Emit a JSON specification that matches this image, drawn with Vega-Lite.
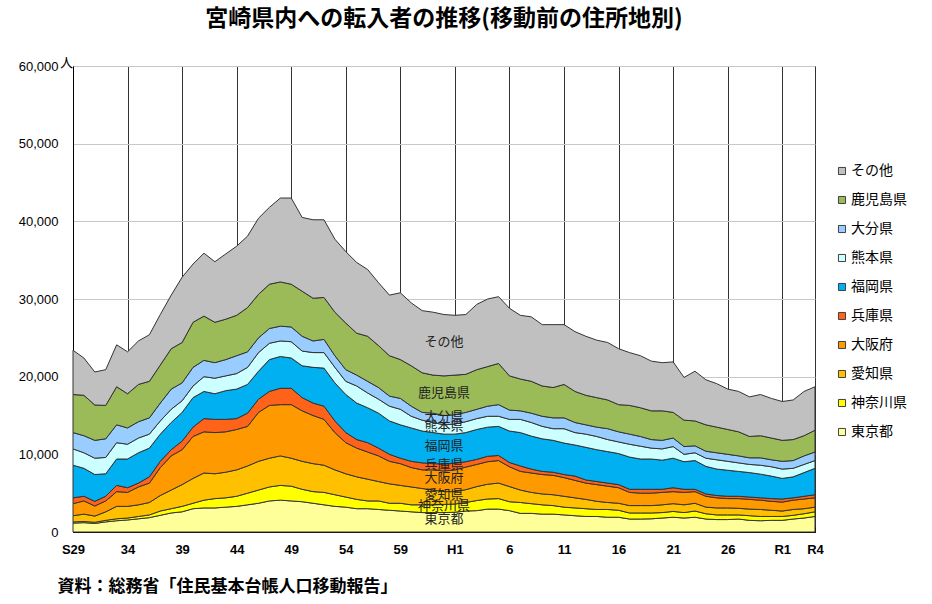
{
"$schema": "https://vega.github.io/schema/vega-lite/v6.json",
"width": 742, "height": 466,
"autosize": {"type": "none"},
"padding": {"left": 73, "top": 66, "right": 117, "bottom": 72},
"background": "white",
"title": {"text": "宮崎県内への転入者の推移(移動前の住所地別)", "fontSize": 23, "fontWeight": "bold", "font": "Noto Sans CJK JP", "color": "#000", "anchor": "middle", "baseline": "bottom", "offset": 2},
"config": {"view": {"stroke": "#000", "strokeWidth": 1}, "font": "Liberation Sans"},
"datasets": {"moves": [
{"year":1954,"area":"東京都","count":1150},{"year":1954,"area":"神奈川県","count":150},{"year":1954,"area":"愛知県","count":800},{"year":1954,"area":"大阪府","count":1550},{"year":1954,"area":"兵庫県","count":750},{"year":1954,"area":"福岡県","count":4200},{"year":1954,"area":"熊本県","count":2100},{"year":1954,"area":"大分県","count":2100},{"year":1954,"area":"鹿児島県","count":4900},{"year":1954,"area":"その他","count":5700},
{"year":1955,"area":"東京都","count":1200},{"year":1955,"area":"神奈川県","count":150},{"year":1955,"area":"愛知県","count":950},{"year":1955,"area":"大阪府","count":1700},{"year":1955,"area":"兵庫県","count":600},{"year":1955,"area":"福岡県","count":3600},{"year":1955,"area":"熊本県","count":2000},{"year":1955,"area":"大分県","count":2200},{"year":1955,"area":"鹿児島県","count":5200},{"year":1955,"area":"その他","count":4800},
{"year":1956,"area":"東京都","count":1100},{"year":1956,"area":"神奈川県","count":150},{"year":1956,"area":"愛知県","count":800},{"year":1956,"area":"大阪府","count":1300},{"year":1956,"area":"兵庫県","count":600},{"year":1956,"area":"福岡県","count":3450},{"year":1956,"area":"熊本県","count":2100},{"year":1956,"area":"大分県","count":2300},{"year":1956,"area":"鹿児島県","count":4550},{"year":1956,"area":"その他","count":4250},
{"year":1957,"area":"東京都","count":1300},{"year":1957,"area":"神奈川県","count":200},{"year":1957,"area":"愛知県","count":1100},{"year":1957,"area":"大阪府","count":1400},{"year":1957,"area":"兵庫県","count":600},{"year":1957,"area":"福岡県","count":2900},{"year":1957,"area":"熊本県","count":2100},{"year":1957,"area":"大分県","count":2400},{"year":1957,"area":"鹿児島県","count":4300},{"year":1957,"area":"その他","count":4600},
{"year":1958,"area":"東京都","count":1450},{"year":1958,"area":"神奈川県","count":250},{"year":1958,"area":"愛知県","count":1600},{"year":1958,"area":"大阪府","count":1900},{"year":1958,"area":"兵庫県","count":800},{"year":1958,"area":"福岡県","count":3400},{"year":1958,"area":"熊本県","count":2100},{"year":1958,"area":"大分県","count":2300},{"year":1958,"area":"鹿児島県","count":4900},{"year":1958,"area":"その他","count":5400},
{"year":1959,"area":"東京都","count":1550},{"year":1959,"area":"神奈川県","count":250},{"year":1959,"area":"愛知県","count":1500},{"year":1959,"area":"大阪府","count":1800},{"year":1959,"area":"兵庫県","count":600},{"year":1959,"area":"福岡県","count":3700},{"year":1959,"area":"熊本県","count":1900},{"year":1959,"area":"大分県","count":2100},{"year":1959,"area":"鹿児島県","count":4400},{"year":1959,"area":"その他","count":5400},
{"year":1960,"area":"東京都","count":1700},{"year":1960,"area":"神奈川県","count":300},{"year":1960,"area":"愛知県","count":1500},{"year":1960,"area":"大阪府","count":2300},{"year":1960,"area":"兵庫県","count":500},{"year":1960,"area":"福岡県","count":3900},{"year":1960,"area":"熊本県","count":1900},{"year":1960,"area":"大分県","count":2100},{"year":1960,"area":"鹿児島県","count":4800},{"year":1960,"area":"その他","count":5600},
{"year":1961,"area":"東京都","count":1850},{"year":1961,"area":"神奈川県","count":350},{"year":1961,"area":"愛知県","count":1600},{"year":1961,"area":"大阪府","count":2500},{"year":1961,"area":"兵庫県","count":800},{"year":1961,"area":"福岡県","count":3700},{"year":1961,"area":"熊本県","count":1800},{"year":1961,"area":"大分県","count":2100},{"year":1961,"area":"鹿児島県","count":4700},{"year":1961,"area":"その他","count":6000},
{"year":1962,"area":"東京都","count":2150},{"year":1962,"area":"神奈川県","count":550},{"year":1962,"area":"愛知県","count":2000},{"year":1962,"area":"大阪府","count":3600},{"year":1962,"area":"兵庫県","count":800},{"year":1962,"area":"福岡県","count":3500},{"year":1962,"area":"熊本県","count":1700},{"year":1962,"area":"大分県","count":2300},{"year":1962,"area":"鹿児島県","count":4900},{"year":1962,"area":"その他","count":6500},
{"year":1963,"area":"東京都","count":2450},{"year":1963,"area":"神奈川県","count":550},{"year":1963,"area":"愛知県","count":2400},{"year":1963,"area":"大阪府","count":4400},{"year":1963,"area":"兵庫県","count":800},{"year":1963,"area":"福岡県","count":3500},{"year":1963,"area":"熊本県","count":1700},{"year":1963,"area":"大分県","count":2600},{"year":1963,"area":"鹿児島県","count":5200},{"year":1963,"area":"その他","count":6900},
{"year":1964,"area":"東京都","count":2600},{"year":1964,"area":"神奈川県","count":700},{"year":1964,"area":"愛知県","count":2800},{"year":1964,"area":"大阪府","count":4500},{"year":1964,"area":"兵庫県","count":1100},{"year":1964,"area":"福岡県","count":3700},{"year":1964,"area":"熊本県","count":1500},{"year":1964,"area":"大分県","count":2300},{"year":1964,"area":"鹿児島県","count":5200},{"year":1964,"area":"その他","count":8400},
{"year":1965,"area":"東京都","count":3000},{"year":1965,"area":"神奈川県","count":700},{"year":1965,"area":"愛知県","count":3200},{"year":1965,"area":"大阪府","count":5400},{"year":1965,"area":"兵庫県","count":1200},{"year":1965,"area":"福岡県","count":3800},{"year":1965,"area":"熊本県","count":1500},{"year":1965,"area":"大分県","count":2400},{"year":1965,"area":"鹿児島県","count":5800},{"year":1965,"area":"その他","count":7500},
{"year":1966,"area":"東京都","count":3100},{"year":1966,"area":"神奈川県","count":1000},{"year":1966,"area":"愛知県","count":3500},{"year":1966,"area":"大阪府","count":5300},{"year":1966,"area":"兵庫県","count":1700},{"year":1966,"area":"福岡県","count":3500},{"year":1966,"area":"熊本県","count":1900},{"year":1966,"area":"大分県","count":2100},{"year":1966,"area":"鹿児島県","count":5700},{"year":1966,"area":"その他","count":8100},
{"year":1967,"area":"東京都","count":3100},{"year":1967,"area":"神奈川県","count":1200},{"year":1967,"area":"愛知県","count":3200},{"year":1967,"area":"大阪府","count":5300},{"year":1967,"area":"兵庫県","count":1700},{"year":1967,"area":"福岡県","count":3300},{"year":1967,"area":"熊本県","count":2000},{"year":1967,"area":"大分県","count":2000},{"year":1967,"area":"鹿児島県","count":5200},{"year":1967,"area":"その他","count":7800},
{"year":1968,"area":"東京都","count":3200},{"year":1968,"area":"神奈川県","count":1200},{"year":1968,"area":"愛知県","count":3300},{"year":1968,"area":"大阪府","count":5200},{"year":1968,"area":"兵庫県","count":1600},{"year":1968,"area":"福岡県","count":3700},{"year":1968,"area":"熊本県","count":1900},{"year":1968,"area":"大分県","count":2100},{"year":1968,"area":"鹿児島県","count":5200},{"year":1968,"area":"その他","count":8400},
{"year":1969,"area":"東京都","count":3300},{"year":1969,"area":"神奈川県","count":1300},{"year":1969,"area":"愛知県","count":3400},{"year":1969,"area":"大阪府","count":5200},{"year":1969,"area":"兵庫県","count":1400},{"year":1969,"area":"福岡県","count":3800},{"year":1969,"area":"熊本県","count":2000},{"year":1969,"area":"大分県","count":2300},{"year":1969,"area":"鹿児島県","count":5200},{"year":1969,"area":"その他","count":8900},
{"year":1970,"area":"東京都","count":3500},{"year":1970,"area":"神奈川県","count":1500},{"year":1970,"area":"愛知県","count":3500},{"year":1970,"area":"大阪府","count":5100},{"year":1970,"area":"兵庫県","count":1700},{"year":1970,"area":"福岡県","count":3700},{"year":1970,"area":"熊本県","count":2200},{"year":1970,"area":"大分県","count":2000},{"year":1970,"area":"鹿児島県","count":5700},{"year":1970,"area":"その他","count":9200},
{"year":1971,"area":"東京都","count":3700},{"year":1971,"area":"神奈川県","count":1700},{"year":1971,"area":"愛知県","count":3700},{"year":1971,"area":"大阪府","count":6300},{"year":1971,"area":"兵庫県","count":1700},{"year":1971,"area":"福岡県","count":3600},{"year":1971,"area":"熊本県","count":2400},{"year":1971,"area":"大分県","count":1900},{"year":1971,"area":"鹿児島県","count":5600},{"year":1971,"area":"その他","count":9800},
{"year":1972,"area":"東京都","count":4000},{"year":1972,"area":"神奈川県","count":1800},{"year":1972,"area":"愛知県","count":3700},{"year":1972,"area":"大阪府","count":6800},{"year":1972,"area":"兵庫県","count":1800},{"year":1972,"area":"福岡県","count":4100},{"year":1972,"area":"熊本県","count":2100},{"year":1972,"area":"大分県","count":1900},{"year":1972,"area":"鹿児島県","count":5700},{"year":1972,"area":"その他","count":9900},
{"year":1973,"area":"東京都","count":4100},{"year":1973,"area":"神奈川県","count":1900},{"year":1973,"area":"愛知県","count":3800},{"year":1973,"area":"大阪府","count":6600},{"year":1973,"area":"兵庫県","count":2100},{"year":1973,"area":"福岡県","count":4100},{"year":1973,"area":"熊本県","count":2000},{"year":1973,"area":"大分県","count":1900},{"year":1973,"area":"鹿児島県","count":5700},{"year":1973,"area":"その他","count":10800},
{"year":1974,"area":"東京都","count":4000},{"year":1974,"area":"神奈川県","count":1900},{"year":1974,"area":"愛知県","count":3600},{"year":1974,"area":"大阪府","count":6900},{"year":1974,"area":"兵庫県","count":2100},{"year":1974,"area":"福岡県","count":3900},{"year":1974,"area":"熊本県","count":2100},{"year":1974,"area":"大分県","count":1900},{"year":1974,"area":"鹿児島県","count":5500},{"year":1974,"area":"その他","count":11100},
{"year":1975,"area":"東京都","count":3900},{"year":1975,"area":"神奈川県","count":1600},{"year":1975,"area":"愛知県","count":3600},{"year":1975,"area":"大阪府","count":6500},{"year":1975,"area":"兵庫県","count":1700},{"year":1975,"area":"福岡県","count":4100},{"year":1975,"area":"熊本県","count":1900},{"year":1975,"area":"大分県","count":1900},{"year":1975,"area":"鹿児島県","count":5800},{"year":1975,"area":"その他","count":9500},
{"year":1976,"area":"東京都","count":3700},{"year":1976,"area":"神奈川県","count":1500},{"year":1976,"area":"愛知県","count":3600},{"year":1976,"area":"大阪府","count":6200},{"year":1976,"area":"兵庫県","count":1600},{"year":1976,"area":"福岡県","count":4600},{"year":1976,"area":"熊本県","count":1900},{"year":1976,"area":"大分県","count":1500},{"year":1976,"area":"鹿児島県","count":5500},{"year":1976,"area":"その他","count":10100},
{"year":1977,"area":"東京都","count":3500},{"year":1977,"area":"神奈川県","count":1600},{"year":1977,"area":"愛知県","count":3500},{"year":1977,"area":"大阪府","count":5900},{"year":1977,"area":"兵庫県","count":1700},{"year":1977,"area":"福岡県","count":4900},{"year":1977,"area":"熊本県","count":2000},{"year":1977,"area":"大分県","count":1700},{"year":1977,"area":"鹿児島県","count":5400},{"year":1977,"area":"その他","count":10000},
{"year":1978,"area":"東京都","count":3300},{"year":1978,"area":"神奈川県","count":1500},{"year":1978,"area":"愛知県","count":3200},{"year":1978,"area":"大阪府","count":4800},{"year":1978,"area":"兵庫県","count":1500},{"year":1978,"area":"福岡県","count":4900},{"year":1978,"area":"熊本県","count":2000},{"year":1978,"area":"大分県","count":1500},{"year":1978,"area":"鹿児島県","count":5600},{"year":1978,"area":"その他","count":9400},
{"year":1979,"area":"東京都","count":3200},{"year":1979,"area":"神奈川県","count":1300},{"year":1979,"area":"愛知県","count":3000},{"year":1979,"area":"大阪府","count":4000},{"year":1979,"area":"兵庫県","count":1300},{"year":1979,"area":"福岡県","count":4900},{"year":1979,"area":"熊本県","count":1700},{"year":1979,"area":"大分県","count":1500},{"year":1979,"area":"鹿児島県","count":6000},{"year":1979,"area":"その他","count":9200},
{"year":1980,"area":"東京都","count":3000},{"year":1980,"area":"神奈川県","count":1200},{"year":1980,"area":"愛知県","count":2900},{"year":1980,"area":"大阪府","count":3700},{"year":1980,"area":"兵庫県","count":1100},{"year":1980,"area":"福岡県","count":4700},{"year":1980,"area":"熊本県","count":2200},{"year":1980,"area":"大分県","count":1400},{"year":1980,"area":"鹿児島県","count":5400},{"year":1980,"area":"その他","count":9100},
{"year":1981,"area":"東京都","count":3000},{"year":1981,"area":"神奈川県","count":1000},{"year":1981,"area":"愛知県","count":2800},{"year":1981,"area":"大阪府","count":3500},{"year":1981,"area":"兵庫県","count":1200},{"year":1981,"area":"福岡県","count":4500},{"year":1981,"area":"熊本県","count":1900},{"year":1981,"area":"大分県","count":1500},{"year":1981,"area":"鹿児島県","count":5800},{"year":1981,"area":"その他","count":8600},
{"year":1982,"area":"東京都","count":2900},{"year":1982,"area":"神奈川県","count":1100},{"year":1982,"area":"愛知県","count":2500},{"year":1982,"area":"大阪府","count":3300},{"year":1982,"area":"兵庫県","count":1000},{"year":1982,"area":"福岡県","count":4500},{"year":1982,"area":"熊本県","count":1800},{"year":1982,"area":"大分県","count":1500},{"year":1982,"area":"鹿児島県","count":5400},{"year":1982,"area":"その他","count":8100},
{"year":1983,"area":"東京都","count":2800},{"year":1983,"area":"神奈川県","count":900},{"year":1983,"area":"愛知県","count":2500},{"year":1983,"area":"大阪府","count":2900},{"year":1983,"area":"兵庫県","count":900},{"year":1983,"area":"福岡県","count":4300},{"year":1983,"area":"熊本県","count":1900},{"year":1983,"area":"大分県","count":1300},{"year":1983,"area":"鹿児島県","count":5200},{"year":1983,"area":"その他","count":7800},
{"year":1984,"area":"東京都","count":2700},{"year":1984,"area":"神奈川県","count":1000},{"year":1984,"area":"愛知県","count":2300},{"year":1984,"area":"大阪府","count":2800},{"year":1984,"area":"兵庫県","count":700},{"year":1984,"area":"福岡県","count":4300},{"year":1984,"area":"熊本県","count":2000},{"year":1984,"area":"大分県","count":1400},{"year":1984,"area":"鹿児島県","count":5000},{"year":1984,"area":"その他","count":8600},
{"year":1985,"area":"東京都","count":2600},{"year":1985,"area":"神奈川県","count":900},{"year":1985,"area":"愛知県","count":2300},{"year":1985,"area":"大阪府","count":2500},{"year":1985,"area":"兵庫県","count":800},{"year":1985,"area":"福岡県","count":4300},{"year":1985,"area":"熊本県","count":1500},{"year":1985,"area":"大分県","count":1300},{"year":1985,"area":"鹿児島県","count":5200},{"year":1985,"area":"その他","count":8100},
{"year":1986,"area":"東京都","count":2500},{"year":1986,"area":"神奈川県","count":1000},{"year":1986,"area":"愛知県","count":2100},{"year":1986,"area":"大阪府","count":2400},{"year":1986,"area":"兵庫県","count":900},{"year":1986,"area":"福岡県","count":4100},{"year":1986,"area":"熊本県","count":1400},{"year":1986,"area":"大分県","count":1000},{"year":1986,"area":"鹿児島県","count":5100},{"year":1986,"area":"その他","count":8000},
{"year":1987,"area":"東京都","count":2500},{"year":1987,"area":"神奈川県","count":1000},{"year":1987,"area":"愛知県","count":1900},{"year":1987,"area":"大阪府","count":2600},{"year":1987,"area":"兵庫県","count":800},{"year":1987,"area":"福岡県","count":4000},{"year":1987,"area":"熊本県","count":1300},{"year":1987,"area":"大分県","count":1200},{"year":1987,"area":"鹿児島県","count":4900},{"year":1987,"area":"その他","count":8100},
{"year":1988,"area":"東京都","count":2500},{"year":1988,"area":"神奈川県","count":1050},{"year":1988,"area":"愛知県","count":1650},{"year":1988,"area":"大阪府","count":2650},{"year":1988,"area":"兵庫県","count":900},{"year":1988,"area":"福岡県","count":3850},{"year":1988,"area":"熊本県","count":1200},{"year":1988,"area":"大分県","count":1200},{"year":1988,"area":"鹿児島県","count":5100},{"year":1988,"area":"その他","count":7900},
{"year":1989,"area":"東京都","count":2550},{"year":1989,"area":"神奈川県","count":1050},{"year":1989,"area":"愛知県","count":1600},{"year":1989,"area":"大阪府","count":2800},{"year":1989,"area":"兵庫県","count":850},{"year":1989,"area":"福岡県","count":3750},{"year":1989,"area":"熊本県","count":1300},{"year":1989,"area":"大分県","count":1200},{"year":1989,"area":"鹿児島県","count":5100},{"year":1989,"area":"その他","count":7700},
{"year":1990,"area":"東京都","count":2700},{"year":1990,"area":"神奈川県","count":1100},{"year":1990,"area":"愛知県","count":1650},{"year":1990,"area":"大阪府","count":2900},{"year":1990,"area":"兵庫県","count":700},{"year":1990,"area":"福岡県","count":3750},{"year":1990,"area":"熊本県","count":1400},{"year":1990,"area":"大分県","count":1200},{"year":1990,"area":"鹿児島県","count":4900},{"year":1990,"area":"その他","count":7700},
{"year":1991,"area":"東京都","count":2750},{"year":1991,"area":"神奈川県","count":1300},{"year":1991,"area":"愛知県","count":1800},{"year":1991,"area":"大阪府","count":2850},{"year":1991,"area":"兵庫県","count":650},{"year":1991,"area":"福岡県","count":3850},{"year":1991,"area":"熊本県","count":1400},{"year":1991,"area":"大分県","count":1200},{"year":1991,"area":"鹿児島県","count":5100},{"year":1991,"area":"その他","count":8400},
{"year":1992,"area":"東京都","count":2950},{"year":1992,"area":"神奈川県","count":1300},{"year":1992,"area":"愛知県","count":1900},{"year":1992,"area":"大阪府","count":2900},{"year":1992,"area":"兵庫県","count":700},{"year":1992,"area":"福岡県","count":3750},{"year":1992,"area":"熊本県","count":1400},{"year":1992,"area":"大分県","count":1300},{"year":1992,"area":"鹿児島県","count":5100},{"year":1992,"area":"その他","count":8700},
{"year":1993,"area":"東京都","count":2950},{"year":1993,"area":"神奈川県","count":1350},{"year":1993,"area":"愛知県","count":2000},{"year":1993,"area":"大阪府","count":2900},{"year":1993,"area":"兵庫県","count":650},{"year":1993,"area":"福岡県","count":3750},{"year":1993,"area":"熊本県","count":1300},{"year":1993,"area":"大分県","count":1500},{"year":1993,"area":"鹿児島県","count":5300},{"year":1993,"area":"その他","count":8600},
{"year":1994,"area":"東京都","count":2750},{"year":1994,"area":"神奈川県","count":1150},{"year":1994,"area":"愛知県","count":1950},{"year":1994,"area":"大阪府","count":2550},{"year":1994,"area":"兵庫県","count":550},{"year":1994,"area":"福岡県","count":4050},{"year":1994,"area":"熊本県","count":1500},{"year":1994,"area":"大分県","count":1200},{"year":1994,"area":"鹿児島県","count":4400},{"year":1994,"area":"その他","count":8700},
{"year":1995,"area":"東京都","count":2400},{"year":1995,"area":"神奈川県","count":1400},{"year":1995,"area":"愛知県","count":1600},{"year":1995,"area":"大阪府","count":2400},{"year":1995,"area":"兵庫県","count":700},{"year":1995,"area":"福岡県","count":4300},{"year":1995,"area":"熊本県","count":1700},{"year":1995,"area":"大分県","count":1100},{"year":1995,"area":"鹿児島県","count":4100},{"year":1995,"area":"その他","count":8200},
{"year":1996,"area":"東京都","count":2400},{"year":1996,"area":"神奈川県","count":1250},{"year":1996,"area":"愛知県","count":1450},{"year":1996,"area":"大阪府","count":2500},{"year":1996,"area":"兵庫県","count":500},{"year":1996,"area":"福岡県","count":4250},{"year":1996,"area":"熊本県","count":1750},{"year":1996,"area":"大分県","count":1200},{"year":1996,"area":"鹿児島県","count":4100},{"year":1996,"area":"その他","count":8300},
{"year":1997,"area":"東京都","count":2300},{"year":1997,"area":"神奈川県","count":1200},{"year":1997,"area":"愛知県","count":1400},{"year":1997,"area":"大阪府","count":2500},{"year":1997,"area":"兵庫県","count":400},{"year":1997,"area":"福岡県","count":4200},{"year":1997,"area":"熊本県","count":1600},{"year":1997,"area":"大分県","count":1300},{"year":1997,"area":"鹿児島県","count":3900},{"year":1997,"area":"その他","count":7900},
{"year":1998,"area":"東京都","count":2300},{"year":1998,"area":"神奈川県","count":1100},{"year":1998,"area":"愛知県","count":1400},{"year":1998,"area":"大阪府","count":2500},{"year":1998,"area":"兵庫県","count":400},{"year":1998,"area":"福岡県","count":4100},{"year":1998,"area":"熊本県","count":1500},{"year":1998,"area":"大分県","count":1400},{"year":1998,"area":"鹿児島県","count":3900},{"year":1998,"area":"その他","count":8100},
{"year":1999,"area":"東京都","count":2200},{"year":1999,"area":"神奈川県","count":1000},{"year":1999,"area":"愛知県","count":1400},{"year":1999,"area":"大阪府","count":2400},{"year":1999,"area":"兵庫県","count":400},{"year":1999,"area":"福岡県","count":4050},{"year":1999,"area":"熊本県","count":1850},{"year":1999,"area":"大分県","count":1400},{"year":1999,"area":"鹿児島県","count":4300},{"year":1999,"area":"その他","count":7700},
{"year":2000,"area":"東京都","count":2100},{"year":2000,"area":"神奈川県","count":1000},{"year":2000,"area":"愛知県","count":1300},{"year":2000,"area":"大阪府","count":2250},{"year":2000,"area":"兵庫県","count":550},{"year":2000,"area":"福岡県","count":4000},{"year":2000,"area":"熊本県","count":1600},{"year":2000,"area":"大分県","count":1300},{"year":2000,"area":"鹿児島県","count":4000},{"year":2000,"area":"その他","count":7700},
{"year":2001,"area":"東京都","count":2000},{"year":2001,"area":"神奈川県","count":1000},{"year":2001,"area":"愛知県","count":1200},{"year":2001,"area":"大阪府","count":2100},{"year":2001,"area":"兵庫県","count":400},{"year":2001,"area":"福岡県","count":4200},{"year":2001,"area":"熊本県","count":1700},{"year":2001,"area":"大分県","count":1200},{"year":2001,"area":"鹿児島県","count":3800},{"year":2001,"area":"その他","count":7600},
{"year":2002,"area":"東京都","count":2000},{"year":2002,"area":"神奈川県","count":900},{"year":2002,"area":"愛知県","count":1050},{"year":2002,"area":"大阪府","count":2150},{"year":2002,"area":"兵庫県","count":400},{"year":2002,"area":"福岡県","count":4100},{"year":2002,"area":"熊本県","count":1700},{"year":2002,"area":"大分県","count":1200},{"year":2002,"area":"鹿児島県","count":3800},{"year":2002,"area":"その他","count":7400},
{"year":2003,"area":"東京都","count":1900},{"year":2003,"area":"神奈川県","count":1000},{"year":2003,"area":"愛知県","count":900},{"year":2003,"area":"大阪府","count":2100},{"year":2003,"area":"兵庫県","count":400},{"year":2003,"area":"福岡県","count":4050},{"year":2003,"area":"熊本県","count":1550},{"year":2003,"area":"大分県","count":1400},{"year":2003,"area":"鹿児島県","count":3700},{"year":2003,"area":"その他","count":7400},
{"year":2004,"area":"東京都","count":1900},{"year":2004,"area":"神奈川県","count":900},{"year":2004,"area":"愛知県","count":900},{"year":2004,"area":"大阪府","count":2000},{"year":2004,"area":"兵庫県","count":400},{"year":2004,"area":"福岡県","count":4000},{"year":2004,"area":"熊本県","count":1500},{"year":2004,"area":"大分県","count":1300},{"year":2004,"area":"鹿児島県","count":3500},{"year":2004,"area":"その他","count":7200},
{"year":2005,"area":"東京都","count":1670},{"year":2005,"area":"神奈川県","count":780},{"year":2005,"area":"愛知県","count":950},{"year":2005,"area":"大阪府","count":1700},{"year":2005,"area":"兵庫県","count":400},{"year":2005,"area":"福岡県","count":4150},{"year":2005,"area":"熊本県","count":1650},{"year":2005,"area":"大分県","count":1300},{"year":2005,"area":"鹿児島県","count":3700},{"year":2005,"area":"その他","count":6800},
{"year":2006,"area":"東京都","count":1670},{"year":2006,"area":"神奈川県","count":780},{"year":2006,"area":"愛知県","count":950},{"year":2006,"area":"大阪府","count":1600},{"year":2006,"area":"兵庫県","count":500},{"year":2006,"area":"福岡県","count":3900},{"year":2006,"area":"熊本県","count":1650},{"year":2006,"area":"大分県","count":1250},{"year":2006,"area":"鹿児島県","count":3700},{"year":2006,"area":"その他","count":6700},
{"year":2007,"area":"東京都","count":1700},{"year":2007,"area":"神奈川県","count":750},{"year":2007,"area":"愛知県","count":950},{"year":2007,"area":"大阪府","count":1600},{"year":2007,"area":"兵庫県","count":500},{"year":2007,"area":"福岡県","count":3900},{"year":2007,"area":"熊本県","count":1400},{"year":2007,"area":"大分県","count":1100},{"year":2007,"area":"鹿児島県","count":3700},{"year":2007,"area":"その他","count":6400},
{"year":2008,"area":"東京都","count":1800},{"year":2008,"area":"神奈川県","count":700},{"year":2008,"area":"愛知県","count":1000},{"year":2008,"area":"大阪府","count":1600},{"year":2008,"area":"兵庫県","count":400},{"year":2008,"area":"福岡県","count":3750},{"year":2008,"area":"熊本県","count":1450},{"year":2008,"area":"大分県","count":1100},{"year":2008,"area":"鹿児島県","count":3800},{"year":2008,"area":"その他","count":6200},
{"year":2009,"area":"東京都","count":1900},{"year":2009,"area":"神奈川県","count":750},{"year":2009,"area":"愛知県","count":1000},{"year":2009,"area":"大阪府","count":1550},{"year":2009,"area":"兵庫県","count":500},{"year":2009,"area":"福岡県","count":3800},{"year":2009,"area":"熊本県","count":1500},{"year":2009,"area":"大分県","count":1100},{"year":2009,"area":"鹿児島県","count":3300},{"year":2009,"area":"その他","count":6500},
{"year":2010,"area":"東京都","count":1800},{"year":2010,"area":"神奈川県","count":700},{"year":2010,"area":"愛知県","count":1000},{"year":2010,"area":"大阪府","count":1600},{"year":2010,"area":"兵庫県","count":400},{"year":2010,"area":"福岡県","count":3550},{"year":2010,"area":"熊本県","count":950},{"year":2010,"area":"大分県","count":1000},{"year":2010,"area":"鹿児島県","count":3400},{"year":2010,"area":"その他","count":5500},
{"year":2011,"area":"東京都","count":1900},{"year":2011,"area":"神奈川県","count":800},{"year":2011,"area":"愛知県","count":1000},{"year":2011,"area":"大阪府","count":1500},{"year":2011,"area":"兵庫県","count":300},{"year":2011,"area":"福岡県","count":3700},{"year":2011,"area":"熊本県","count":1000},{"year":2011,"area":"大分県","count":900},{"year":2011,"area":"鹿児島県","count":3200},{"year":2011,"area":"その他","count":6400},
{"year":2012,"area":"東京都","count":1670},{"year":2012,"area":"神奈川県","count":680},{"year":2012,"area":"愛知県","count":850},{"year":2012,"area":"大阪府","count":1400},{"year":2012,"area":"兵庫県","count":300},{"year":2012,"area":"福岡県","count":3550},{"year":2012,"area":"熊本県","count":1050},{"year":2012,"area":"大分県","count":900},{"year":2012,"area":"鹿児島県","count":3400},{"year":2012,"area":"その他","count":5800},
{"year":2013,"area":"東京都","count":1600},{"year":2013,"area":"神奈川県","count":600},{"year":2013,"area":"愛知県","count":900},{"year":2013,"area":"大阪府","count":1300},{"year":2013,"area":"兵庫県","count":300},{"year":2013,"area":"福岡県","count":3400},{"year":2013,"area":"熊本県","count":1200},{"year":2013,"area":"大分県","count":900},{"year":2013,"area":"鹿児島県","count":3300},{"year":2013,"area":"その他","count":5600},
{"year":2014,"area":"東京都","count":1600},{"year":2014,"area":"神奈川県","count":600},{"year":2014,"area":"愛知県","count":900},{"year":2014,"area":"大阪府","count":1200},{"year":2014,"area":"兵庫県","count":300},{"year":2014,"area":"福岡県","count":3350},{"year":2014,"area":"熊本県","count":1150},{"year":2014,"area":"大分県","count":900},{"year":2014,"area":"鹿児島県","count":3200},{"year":2014,"area":"その他","count":5200},
{"year":2015,"area":"東京都","count":1670},{"year":2015,"area":"神奈川県","count":530},{"year":2015,"area":"愛知県","count":850},{"year":2015,"area":"大阪府","count":1250},{"year":2015,"area":"兵庫県","count":300},{"year":2015,"area":"福岡県","count":3200},{"year":2015,"area":"熊本県","count":1100},{"year":2015,"area":"大分県","count":900},{"year":2015,"area":"鹿児島県","count":3100},{"year":2015,"area":"その他","count":5200},
{"year":2016,"area":"東京都","count":1500},{"year":2016,"area":"神奈川県","count":600},{"year":2016,"area":"愛知県","count":850},{"year":2016,"area":"大阪府","count":1250},{"year":2016,"area":"兵庫県","count":300},{"year":2016,"area":"福岡県","count":3150},{"year":2016,"area":"熊本県","count":1050},{"year":2016,"area":"大分県","count":850},{"year":2016,"area":"鹿児島県","count":2750},{"year":2016,"area":"その他","count":5100},
{"year":2017,"area":"東京都","count":1450},{"year":2017,"area":"神奈川県","count":550},{"year":2017,"area":"愛知県","count":900},{"year":2017,"area":"大阪府","count":1200},{"year":2017,"area":"兵庫県","count":300},{"year":2017,"area":"福岡県","count":3050},{"year":2017,"area":"熊本県","count":1150},{"year":2017,"area":"大分県","count":950},{"year":2017,"area":"鹿児島県","count":2850},{"year":2017,"area":"その他","count":5300},
{"year":2018,"area":"東京都","count":1500},{"year":2018,"area":"神奈川県","count":500},{"year":2018,"area":"愛知県","count":800},{"year":2018,"area":"大阪府","count":1150},{"year":2018,"area":"兵庫県","count":350},{"year":2018,"area":"福岡県","count":2900},{"year":2018,"area":"熊本県","count":1200},{"year":2018,"area":"大分県","count":900},{"year":2018,"area":"鹿児島県","count":2800},{"year":2018,"area":"その他","count":5100},
{"year":2019,"area":"東京都","count":1500},{"year":2019,"area":"神奈川県","count":500},{"year":2019,"area":"愛知県","count":700},{"year":2019,"area":"大阪府","count":1150},{"year":2019,"area":"兵庫県","count":400},{"year":2019,"area":"福岡県","count":2650},{"year":2019,"area":"熊本県","count":1200},{"year":2019,"area":"大分県","count":1000},{"year":2019,"area":"鹿児島県","count":2700},{"year":2019,"area":"その他","count":5000},
{"year":2020,"area":"東京都","count":1670},{"year":2020,"area":"神奈川県","count":480},{"year":2020,"area":"愛知県","count":750},{"year":2020,"area":"大阪府","count":1200},{"year":2020,"area":"兵庫県","count":300},{"year":2020,"area":"福岡県","count":2700},{"year":2020,"area":"熊本県","count":1100},{"year":2020,"area":"大分県","count":1000},{"year":2020,"area":"鹿児島県","count":2700},{"year":2020,"area":"その他","count":5100},
{"year":2021,"area":"東京都","count":1800},{"year":2021,"area":"神奈川県","count":550},{"year":2021,"area":"愛知県","count":650},{"year":2021,"area":"大阪府","count":1250},{"year":2021,"area":"兵庫県","count":350},{"year":2021,"area":"福岡県","count":3050},{"year":2021,"area":"熊本県","count":1050},{"year":2021,"area":"大分県","count":1100},{"year":2021,"area":"鹿児島県","count":2600},{"year":2021,"area":"その他","count":5700},
{"year":2022,"area":"東京都","count":2000},{"year":2022,"area":"神奈川県","count":600},{"year":2022,"area":"愛知県","count":600},{"year":2022,"area":"大阪府","count":1200},{"year":2022,"area":"兵庫県","count":400},{"year":2022,"area":"福岡県","count":3400},{"year":2022,"area":"熊本県","count":1000},{"year":2022,"area":"大分県","count":1100},{"year":2022,"area":"鹿児島県","count":2800},{"year":2022,"area":"その他","count":5600}
]},
"data": {"name": "moves"},
"transform": [{"calculate": "indexof(['東京都','神奈川県','愛知県','大阪府','兵庫県','福岡県','熊本県','大分県','鹿児島県','その他'], datum.area)", "as": "rank"}],
"layer": [
{"mark": {"type": "area", "stroke": "#333", "strokeWidth": 1, "strokeJoin": "round", "interpolate": "linear"},
 "encoding": {
  "x": {"field": "year", "type": "quantitative",
        "scale": {"domain": [1954, 2022], "nice": false, "zero": false},
        "axis": {"values": [1954,1959,1964,1969,1974,1979,1984,1989,1994,1999,2004,2009,2014,2019,2022],
                 "labelExpr": "datum.value == 1954 ? 'S29' : datum.value < 1989 ? '' + (datum.value - 1925) : datum.value == 1989 ? 'H1' : datum.value < 2019 ? '' + (datum.value - 1988) : 'R' + (datum.value - 2018)",
                 "grid": true, "gridColor": "#333", "gridWidth": 1, "gridOpacity": 1,
                 "domain": true, "domainColor": "#000", "ticks": true, "tickSize": -5, "tickColor": "#000",
                 "labelFont": "Liberation Sans", "labelFontSize": 13, "labelFontWeight": "bold", "labelColor": "#000", "labelPadding": 16, "labelOverlap": false, "labelFlush": false,
                 "title": "資料：総務省「住民基本台帳人口移動報告」", "titleFont": "Noto Sans CJK JP", "titleFontSize": 17, "titleFontWeight": "bold", "titleColor": "#000",
                 "titleAnchor": "start", "titleAlign": "left", "titleX": -16, "titleY": 54, "titleBaseline": "middle"}},
  "y": {"field": "count", "type": "quantitative", "stack": "zero",
        "scale": {"domain": [0, 60000], "nice": false},
        "axis": {"values": [0,10000,20000,30000,40000,50000,60000], "labelExpr": "format(datum.value, ',')", "grid": true, "gridColor": "#c8c8c8", "gridWidth": 1,
                 "domainColor": "#000", "ticks": false, "labelPadding": 15, "labelFont": "Liberation Sans", "labelFontSize": 13, "labelColor": "#000",
                 "title": "人", "titleAngle": 0, "titleX": -7, "titleY": -4, "titleAlign": "center", "titleBaseline": "middle",
                 "titleFont": "Noto Sans CJK JP", "titleFontSize": 13, "titleFontWeight": "normal", "titleColor": "#000"}},
  "color": {"field": "area", "type": "nominal",
            "scale": {"domain": ["その他","鹿児島県","大分県","熊本県","福岡県","兵庫県","大阪府","愛知県","神奈川県","東京都"],
                      "range": ["#C0C0C0","#9BBB59","#99CCFF","#CCFFFF","#00B0F0","#FF6319","#FF9900","#FFC000","#FFFF00","#FFFF99"]},
            "legend": {"orient": "none", "legendX": 762, "legendY": 98, "title": null, "symbolType": "square", "symbolSize": 50,
                       "symbolStrokeColor": "#404040", "symbolStrokeWidth": 1, "labelFont": "Noto Sans CJK JP", "labelFontSize": 14, "labelColor": "#000",
                       "rowPadding": 15, "labelOffset": 2, "padding": 0}},
  "order": {"field": "rank", "type": "quantitative"}
 }},
{"transform": [
   {"stack": "count", "groupby": ["year"], "sort": [{"field": "rank", "order": "ascending"}], "as": ["v0", "v1"]},
   {"filter": "datum.year == 1988"},
   {"calculate": "(datum.v0 + datum.v1) / 2", "as": "mid"}],
 "mark": {"type": "text", "font": "Noto Sans CJK JP", "fontSize": 13, "color": "#222", "baseline": "middle", "align": "center", "dy": -3},
 "encoding": {
  "x": {"field": "year", "type": "quantitative", "title": "資料：総務省「住民基本台帳人口移動報告」"},
  "y": {"field": "mid", "type": "quantitative", "title": "人"},
  "text": {"field": "area"}
 }}
]
}
